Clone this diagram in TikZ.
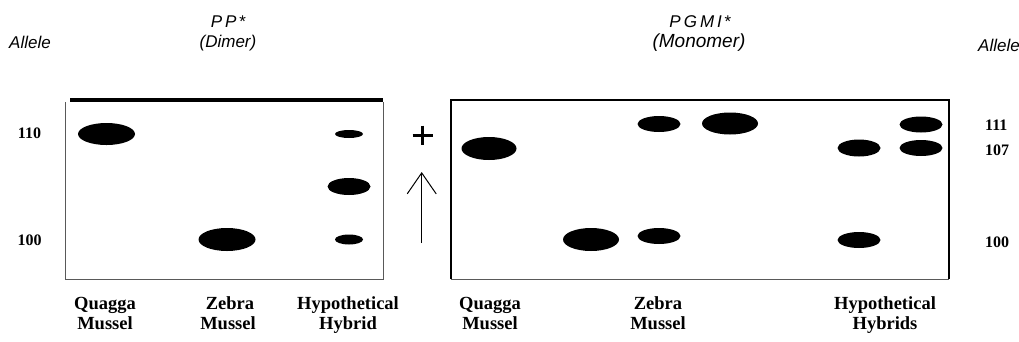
\documentclass[tikz,border=0pt]{standalone}
\usepackage{fontspec}
\setmainfont{Liberation Serif}
\newfontfamily\arialfont{Liberation Sans}
\usetikzlibrary{shapes.geometric,arrows.meta}
\begin{document}
\begin{tikzpicture}[x=1pt,y=-1pt,
  band/.style={ellipse, fill=black, draw=none, inner sep=0pt},
  lbl/.style={font=\fontsize{18.5}{20}\selectfont\bfseries, inner sep=0pt, anchor=base},
  num/.style={font=\fontsize{16}{17}\selectfont\bfseries, inner sep=0pt},
  ttl/.style={font=\arialfont\itshape\fontsize{17}{18}\selectfont, inner sep=0pt},
  thinedge/.style={black!65, line width=0.9pt},
  boxedge/.style={black, line width=2pt}
]
\useasboundingbox (0,0) rectangle (1019,341);

% titles
\node[ttl] (alleleL) at (30,42) {Allele};
\node[ttl, anchor=east] (alleleR) at (1020,45) {Allele};
\node[ttl] (ppt) at (228,22) {P\hspace{3pt}P\hspace{2pt}*};
\node[ttl] (dimer) at (228,43) {(Dimer)};
\node[ttl] (pgmi) at (700,22) {P\hspace{3pt}G\hspace{3pt}M\hspace{3pt}I\hspace{2pt}*};
\node[ttl, font=\arialfont\itshape\fontsize{19}{20}\selectfont] (mono) at (699,43) {(Monomer)};

% left gel
\draw[line width=3.5pt] (70,100) -- (383,100);
\draw[thinedge] (65,102) -- (65,279) -- (383,279) -- (383,102);

\node[band, minimum width=57pt, minimum height=22pt] (q110) at (106.5,134) {};
\node[band, minimum width=57pt, minimum height=23pt] (z100) at (227,239.5) {};
\node[band, minimum width=28pt, minimum height=8pt] (h110) at (349,134) {};
\node[band, minimum width=43pt, minimum height=17pt] (h105) at (349,186.5) {};
\node[band, minimum width=28pt, minimum height=10pt] (h100) at (349,239.5) {};

\node[num] (n110) at (29.5,133.5) {110};
\node[num] (n100L) at (29.5,240) {100};

% plus and arrow
\draw[line width=3pt] (412.7,135) -- (432.7,135);
\draw[line width=3pt] (422.7,125.5) -- (422.7,144.5);
\coordinate (atail) at (421.7,243);
\coordinate (ahead) at (421.7,172);
\draw[line width=1pt, -{Straight Barb[length=21pt,width=29pt]}] (atail) -- (ahead);

% right gel
\draw[boxedge] (451,279) -- (451,100) -- (949,100) -- (949,279);
\draw[thinedge] (451,279) -- (949,279);

\node[band, minimum width=55pt, minimum height=23pt] (rq) at (489,148.5) {};
\node[band, minimum width=56pt, minimum height=23pt] (rz) at (591,239.5) {};
\node[band, minimum width=43pt, minimum height=16pt] (r3a) at (659,124) {};
\node[band, minimum width=43pt, minimum height=16pt] (r3b) at (659,236) {};
\node[band, minimum width=56pt, minimum height=22pt] (r4) at (730,123.5) {};
\node[band, minimum width=43pt, minimum height=17pt] (r5a) at (859,148) {};
\node[band, minimum width=43pt, minimum height=16pt] (r5b) at (859,240) {};
\node[band, minimum width=43pt, minimum height=16pt] (r6a) at (921,124.5) {};
\node[band, minimum width=43pt, minimum height=16pt] (r6b) at (921,148) {};

\node[num, anchor=west] (n111) at (985,125) {111};
\node[num, anchor=west] (n107) at (985,150) {107};
\node[num, anchor=west] (n100R) at (985,242) {100};

% lane labels
\node[lbl] (lq1) at (105,309) {Quagga};
\node[lbl] (lq2) at (105,329) {Mussel};
\node[lbl] (lz1) at (230,309) {Zebra};
\node[lbl] (lz2) at (228,329) {Mussel};
\node[lbl] (lh1) at (348,309) {Hypothetical};
\node[lbl] (lh2) at (348,329) {Hybrid};
\node[lbl] (rq1) at (490,309) {Quagga};
\node[lbl] (rq2) at (490,329) {Mussel};
\node[lbl] (rz1) at (658,309) {Zebra};
\node[lbl] (rz2) at (658,329) {Mussel};
\node[lbl] (rh1) at (885,309) {Hypothetical};
\node[lbl] (rh2) at (885,329) {Hybrids};
\end{tikzpicture}
\end{document}
